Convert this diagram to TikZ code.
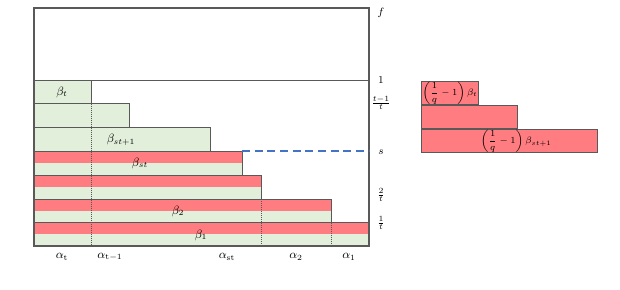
\documentclass[tikz,border=0pt]{standalone}
\usepackage{amsmath,amssymb}
\usetikzlibrary{positioning}
\definecolor{barred}{HTML}{FF7C80}
\definecolor{bargreen}{HTML}{E2EFDA}
\definecolor{edgegray}{HTML}{595959}
\definecolor{sline}{HTML}{4472C4}

\begin{document}
\begin{tikzpicture}[
    x=0.75pt, y=-0.75pt,
    frame/.style={draw=edgegray, line width=0.8pt},
    bar/.style={draw=edgegray, line width=0.7pt},
    guide/.style={densely dotted, line width=0.5pt, draw=edgegray},
    lbl/.style={font=\small, inner sep=1pt},
    tick/.style={font=\footnotesize, inner sep=1pt},
    redbox/.style={draw=edgegray, line width=0.7pt, fill=barred, minimum height=17.4pt,
                   inner sep=0pt, font=\scriptsize}
]
\useasboundingbox (0,0) rectangle (620,289);
% Bars (green)
\foreach \top/\bot/\right in {80/103.5/91, 103.5/127/129, 127/151/210, 151/175/242,
                              175/199/261, 199/222.5/331, 222.5/246/369}
  \fill[bargreen] (34,\top) rectangle (\right,\bot);
% Red halves
\foreach \top/\bot/\right in {151/175/242, 175/199/261, 199/222.5/331, 222.5/246/369}
  \fill[barred] (34,\top) rectangle (\right,{(\top+\bot)/2});
% Bar outlines
\foreach \top/\bot/\right in {80/103.5/91, 103.5/127/129, 127/151/210, 151/175/242,
                              175/199/261, 199/222.5/331, 222.5/246/369}
  \draw[bar] (34,\top) rectangle (\right,\bot);
% Frame
\draw[frame] (34,8) rectangle (369,246);
\draw[bar] (34,80) -- (369,80);
% Dividers
\draw[guide] (91,103.5) -- (91,246);
\draw[guide] (261,199) -- (261,246);
\draw[guide] (331,222.5) -- (331,246);
% Level s
\draw[sline, line width=1pt, dash pattern=on 6pt off 3.5pt] (242,151) -- (369,151);

% Bar labels
\node[lbl] (bt) at (62,92) {$\beta_t$};
\node[lbl] (bst1) at (121,140) {$\beta_{st+1}$};
\node[lbl] (bst) at (140,163) {$\beta_{st}$};
\node[lbl] (b2) at (178,211) {$\beta_2$};
\node[lbl] (b1) at (201,235) {$\beta_1$};

% Axis labels
\node[tick] (yf) at (381,13) {$f$};
\node[tick] (y1) at (381,80) {$1$};
\node[tick] (yt1) at (381,103) {$\frac{t-1}{t}$};
\node[tick] (ys) at (381,152) {$s$};
\node[tick] (y2) at (381,195) {$\frac{2}{t}$};
\node[tick] (yo) at (381,223) {$\frac{1}{t}$};

\node[lbl] (at) at (62,257) {$\alpha_{\mathrm{t}}$};
\node[lbl] (at1) at (110,257) {$\alpha_{\mathrm{t}-1}$};
\node[lbl] (ast) at (227,257) {$\alpha_{\mathrm{st}}$};
\node[lbl] (a2) at (296,257) {$\alpha_2$};
\node[lbl] (a1) at (349,257) {$\alpha_1$};

% Overflow bars
\node[redbox, minimum width=42.8pt, anchor=north west] (qt) at (421,81)
  {$\left(\dfrac{1}{q}-1\right)\beta_t$};
\node[redbox, minimum width=71.7pt, below=0pt of qt.south west, anchor=north west] (qm) {};
\node[redbox, minimum width=132pt, below=0pt of qm.south west, anchor=north west] (qst)
  {\hspace{10pt}$\left(\dfrac{1}{q}-1\right)\beta_{st+1}$};
\end{tikzpicture}
\end{document}
